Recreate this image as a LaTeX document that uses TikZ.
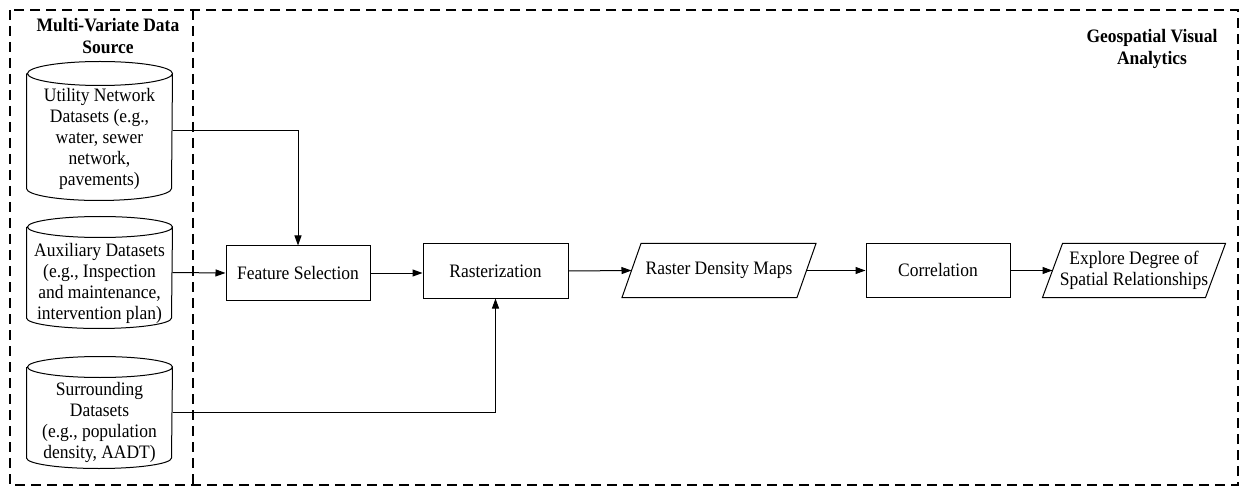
\documentclass[tikz,border=0pt]{standalone}
\usepackage{fontspec}
\setmainfont[FakeStretch=0.92]{Liberation Serif}
\usetikzlibrary{arrows.meta}

% cylinder outline around an (invisible) node: #1 node name, #2 ellipse y radius
\newcommand\drawcyl[2]{%
  \draw ([yshift=-#2pt]#1.north west) -- ([yshift=#2pt]#1.south west)
    arc[start angle=180,end angle=360,x radius=72.5pt,y radius=#2pt]
    -- ([yshift=-#2pt]#1.north east)
    arc[start angle=0,end angle=360,x radius=72.5pt,y radius=#2pt];}

% parallelogram outline around an (invisible) node
\newcommand\drawpara[2]{%
  \draw ([xshift=-#2pt]#1.south west) -- ([xshift=#2pt]#1.north west)
    -- ([xshift=#2pt]#1.north east) -- ([xshift=-#2pt]#1.south east) -- cycle;}

\begin{document}
\begin{tikzpicture}[x=1pt,y=-1pt,
  font=\fontsize{19}{21}\selectfont,
  line width=1pt,
  frame/.style={dash pattern=on 10pt off 6pt, line width=1.1pt},
  proc/.style={draw, minimum height=54pt, inner sep=0pt, align=center},
  slanted/.style={minimum height=53pt, inner sep=0pt, align=center},
  cylbody/.style={minimum width=145pt, inner sep=0pt},
  cyltext/.style={align=center, inner sep=0pt},
  flow/.style={-{Triangle[length=10pt,width=7pt]}, line width=1pt},
  title/.style={font=\fontsize{19}{21.5}\selectfont\bfseries, align=center}]

\useasboundingbox (0,0) rectangle (1245,489);
\fill[white] (0,0) rectangle (1245,489);

% dashed frames
\draw[frame] (10,10) rectangle (1238,485);
\draw[frame] (193,10) -- (193,485);

% frame titles
\node[title] (srctitle) at (108,36) {Multi-Variate Data\\Source};
\node[title] (gvatitle) at (1152,49) {Geospatial Visual\\Analytics};

% data sources
\node[cylbody, minimum height=138pt] (util) at (99.5,131) {};
\drawcyl{util}{12}
\node[cyltext] (utiltext) at (99.5,139) {Utility Network\\Datasets (e.g.,\\water, sewer\\network,\\pavements)};

\node[cylbody, minimum height=111pt] (aux) at (99.5,272.5) {};
\drawcyl{aux}{10.5}
\node[cyltext] (auxtext) at (99.5,283) {Auxiliary Datasets\\(e.g., Inspection\\and maintenance,\\intervention plan)};

\node[cylbody, minimum height=111pt] (sur) at (99.5,412.5) {};
\drawcyl{sur}{10.5}
\node[cyltext] (surtext) at (99.5,422) {Surrounding\\Datasets\\(e.g., population\\density, AADT)};

% processing chain
\node[proc, minimum width=144pt] (fs) at (298,273) {Feature Selection};
\node[proc, minimum width=145pt] (ras) at (495.5,271) {Rasterization};
\node[slanted, minimum width=174pt] (rdm) at (719,270.5) {Raster Density Maps};
\drawpara{rdm}{9.5}
\node[proc, minimum width=144pt, minimum height=53pt] (cor) at (938,270.5) {Correlation};
\node[slanted, minimum width=162pt] (expl) at (1134,270.5) {Explore Degree of\\Spatial Relationships};
\drawpara{expl}{10}

% connectors
\draw[flow] (util.east) -| (fs.north);
\draw[flow] (aux.east) -- (fs.west);
\draw[flow] (sur.east) -| (ras.south);
\draw[flow] (fs.east) -- (fs.east -| ras.west);
\draw[flow] (ras.east) -- (rdm.west);
\draw[flow] (rdm.east) -- (cor.west);
\draw[flow] (cor.east) -- (expl.west);
\end{tikzpicture}
\end{document}
